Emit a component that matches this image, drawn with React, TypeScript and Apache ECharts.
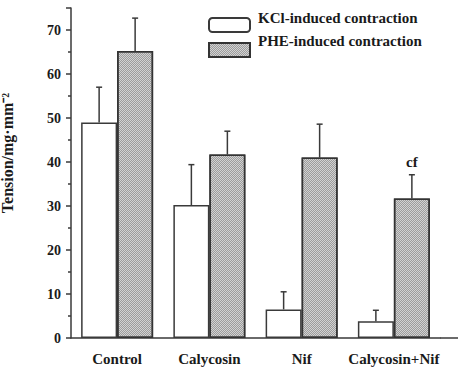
import React, { useEffect, useRef } from 'react';
import * as echarts from 'echarts';

const categories = ['Control', 'Calycosin', 'Nif', 'Calycosin+Nif'];
const seriesNames = ['KCl-induced contraction', 'PHE-induced contraction'];
const kclValues = [49, 30.2, 6.5, 3.8];
const kclSD = [8, 9.2, 4, 2.5];
const pheValues = [65.2, 41.7, 41, 31.7];
const pheSD = [7.5, 5.3, 7.6, 5.4];
const pheNotes = ['', '', '', 'cf'];
const yMax = 75;
const yInterval = 10;

const FONT = '"Liberation Serif", "Times New Roman", serif';
const INK = '#1a1a1a';
const LINE = '#3a3a3a';

function errorSeries(values: number[], sd: number[], offset: number, notes: string[] | null) {
  return {
    type: 'custom',
    z: 5,
    silent: true,
    data: values.map((v, i) => [i, v, v + sd[i]]),
    renderItem: (params: any, api: any) => {
      const i = api.value(0);
      const base = api.coord([i, api.value(1)]);
      const top = api.coord([i, api.value(2)]);
      const x = base[0] + offset;
      const children: any[] = [
        { type: 'line', shape: { x1: x, y1: base[1], x2: x, y2: top[1] }, style: { stroke: LINE, lineWidth: 1.5 } },
        { type: 'line', shape: { x1: x - 3, y1: top[1], x2: x + 3, y2: top[1] }, style: { stroke: LINE, lineWidth: 1.5 } },
      ];
      const note = notes ? notes[params.dataIndex] : '';
      if (note) {
        children.push({
          type: 'text',
          style: { text: note, x: x, y: top[1] - 5, align: 'center', verticalAlign: 'bottom', font: `bold 15px ${FONT}`, fill: INK },
        });
      }
      return { type: 'group', children };
    },
  };
}

export default function App() {
  const ref = useRef<HTMLDivElement>(null);
  useEffect(() => {
    if (!ref.current) return;
    const chart = echarts.init(ref.current, undefined, { renderer: 'svg' });
    const gridLeft = 71;
    const gridRight = 25;
    const gridBottom = 30;
    const legendLeft = 203;
    const legendTop = 12;
    const legendItemH = 14;
    const legendGap = 9;
    chart.setOption({
      animation: false,
      backgroundColor: '#fff',
      grid: { left: gridLeft, right: gridRight, top: 8, bottom: gridBottom, outerBoundsMode: 'none', containLabel: false },
      title: seriesNames.map((name, i) => ({
        text: name,
        left: 258,
        top: legendTop - 2 + i * (legendItemH + legendGap),
        padding: 0,
        textStyle: { fontFamily: FONT, fontWeight: 'bold', fontSize: 15, color: INK },
      })),
      legend: {
        orient: 'vertical',
        left: legendLeft,
        top: legendTop,
        itemWidth: 41,
        itemHeight: legendItemH,
        itemGap: legendGap,
        data: [
          { name: seriesNames[0], icon: 'roundRect' },
          { name: seriesNames[1], icon: 'rect' },
        ],
        formatter: () => '',
      },
      xAxis: [
        {
          type: 'category',
          data: categories,
          axisLine: { lineStyle: { color: LINE, width: 1.5 } },
          axisTick: { alignWithLabel: true, length: 5, lineStyle: { color: LINE, width: 1.5 } },
          axisLabel: { fontFamily: FONT, fontWeight: 'bold', fontSize: 15, color: INK, margin: 13, interval: 0, hideOverlap: false },
        },
        {
          type: 'category',
          data: categories,
          position: 'bottom',
          axisLine: { show: false },
          axisTick: { length: 2, lineStyle: { color: LINE, width: 1.5 } },
          axisLabel: { show: false },
        },
      ],
      yAxis: {
        type: 'value',
        min: 0,
        max: yMax,
        interval: yInterval,
        name: 'Tension/mg·mm⁻²',
        nameLocation: 'middle',
        nameRotate: 90,
        nameGap: 56,
        nameTextStyle: { fontFamily: FONT, fontWeight: 'bold', fontSize: 16, color: INK, padding: [0, 0, 0, 40] },
        splitLine: { show: false },
        axisLine: { show: true, lineStyle: { color: LINE, width: 1.5 } },
        axisTick: { show: true, length: 5, lineStyle: { color: LINE, width: 1.5 } },
        minorTick: { show: true, splitNumber: 2, length: 3, lineStyle: { color: LINE, width: 1.5 } },
        axisLabel: {
          fontFamily: FONT,
          fontWeight: 'bold',
          fontSize: 14,
          color: INK,
          margin: 10,
          formatter: (v: number) => (v % yInterval === 0 ? String(v) : ''),
        },
      },
      series: [
        {
          name: seriesNames[0],
          type: 'bar',
          barWidth: 36,
          barGap: '0%',
          data: kclValues,
          itemStyle: { color: '#ffffff', borderColor: LINE, borderWidth: 1.5 },
        },
        {
          name: seriesNames[1],
          type: 'bar',
          barWidth: 36,
          barGap: '0%',
          data: pheValues,
          itemStyle: {
            color: '#d2d2d2',
            borderColor: '#333',
            borderWidth: 1.5,
            decal: {
              symbol: 'rect',
              symbolSize: 1,
              color: 'rgba(90,90,90,0.45)',
              dashArrayX: [[1, 1], [0, 1, 1, 0]],
              dashArrayY: [1, 0],
            },
          },
        },
        errorSeries(kclValues, kclSD, -18, null),
        errorSeries(pheValues, pheSD, 18, pheNotes),
      ],
      graphic: [
        {
          type: 'line',
          shape: { x1: 465 - gridRight, y1: 368 - gridBottom, x2: 465 - gridRight + 18, y2: 368 - gridBottom },
          style: { stroke: LINE, lineWidth: 1.5 },
        },
      ],
    });
    return () => chart.dispose();
  }, []);
  return <div ref={ref} style={{ width: 465, height: 368, position: 'absolute', left: 0, top: 0 }} />;
}
